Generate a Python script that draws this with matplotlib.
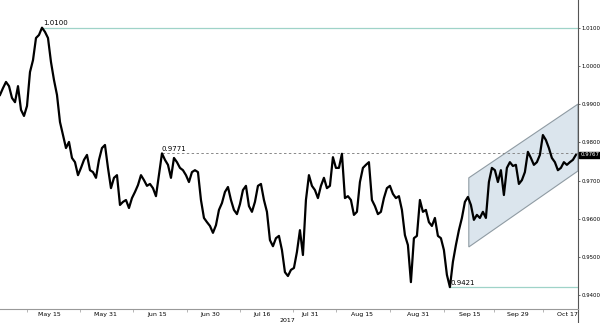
import numpy as np
import matplotlib
matplotlib.use('Agg')
import matplotlib.pyplot as plt
from matplotlib.patches import Polygon


# price (roughly 3 samples per trading day pair)
price = [
    0.9924, 0.9942, 0.9958, 0.9947, 0.9916, 0.9905, 0.9947, 0.9885, 0.9869, 0.9895,
    0.9984, 1.0015, 1.0073, 1.0081, 1.0100, 1.0089, 1.0073, 1.0010, 0.9963, 0.9924,
    0.9853, 0.9819, 0.9785, 0.9801, 0.9759, 0.9748, 0.9714, 0.9733, 0.9754, 0.9767,
    0.9727, 0.9722, 0.9707, 0.9754, 0.9785, 0.9793, 0.9733, 0.9680, 0.9707, 0.9714,
    0.9636, 0.9644, 0.9649, 0.9628, 0.9654, 0.9670, 0.9688, 0.9714, 0.9701, 0.9686,
    0.9691, 0.9680, 0.9659, 0.9714, 0.9771, 0.9754, 0.9741, 0.9707, 0.9759, 0.9748,
    0.9733, 0.9727, 0.9714, 0.9696, 0.9722, 0.9727, 0.9722, 0.9649, 0.9602, 0.9591,
    0.9581, 0.9563, 0.9583, 0.9623, 0.9641, 0.9670, 0.9683, 0.9649, 0.9623, 0.9612,
    0.9638, 0.9675, 0.9686, 0.9633, 0.9618, 0.9644, 0.9686, 0.9691, 0.9649, 0.9618,
    0.9544, 0.9528, 0.9549, 0.9555, 0.9518, 0.9460, 0.9450, 0.9466, 0.9471, 0.9513,
    0.9570, 0.9505, 0.9649, 0.9714, 0.9686, 0.9675, 0.9654, 0.9686, 0.9707, 0.9680,
    0.9686, 0.9761, 0.9733, 0.9733, 0.9770, 0.9654, 0.9659, 0.9649, 0.9610, 0.9618,
    0.9696, 0.9733, 0.9741, 0.9748, 0.9649, 0.9633, 0.9612, 0.9618, 0.9654, 0.9680,
    0.9686, 0.9665, 0.9654, 0.9659, 0.9623, 0.9557, 0.9531, 0.9434, 0.9549, 0.9555,
    0.9649, 0.9618, 0.9623, 0.9591, 0.9581, 0.9602, 0.9555, 0.9549, 0.9518, 0.9453,
    0.9421, 0.9487, 0.9531, 0.9570, 0.9602, 0.9644, 0.9657, 0.9636, 0.9597, 0.9610,
    0.9602, 0.9618, 0.9602, 0.9696, 0.9733, 0.9727, 0.9696, 0.9727, 0.9662, 0.9733,
    0.9748, 0.9738, 0.9741, 0.9691, 0.9701, 0.9722, 0.9775, 0.9759, 0.9741, 0.9748,
    0.9767, 0.9819, 0.9806, 0.9785, 0.9759, 0.9748, 0.9727, 0.9733, 0.9748, 0.9741,
    0.9748, 0.9754, 0.9767,
]

date_labels = ['May 15', 'May 31', 'Jun 15', 'Jun 30', 'Jul 16', 'Jul 31',
               'Aug 15', 'Aug 31', 'Sep 15', 'Sep 29', 'Oct 17']
label_pos = [16.3, 35.0, 52.3, 70.0, 87.3, 103.3, 120.7, 139.3, 156.7, 172.7, 189.3]
sep_pos = [9.0, 26.7, 44.3, 62.3, 80.0, 97.7, 112.0, 130.0, 148.0, 164.7, 181.0]

y_ticks = [1.01, 1.00, 0.99, 0.98, 0.97, 0.96, 0.95, 0.94]

# levels marked on the chart
high_level = 1.0100
mid_level = 0.9771
low_level = 0.9421
last_price = 0.9767

# channel corners (x index, price)
chan_x = [156.3, 192.7, 192.7, 156.3]
chan_y = [0.9707, 0.9900, 0.9725, 0.9526]


def draw_chart():
    fig = plt.figure(figsize=(6, 3.23), dpi=100)
    ax = fig.add_axes([0.0, 0.0433, 0.9633, 0.9567])

    x = np.arange(len(price))
    xmax = 192.7

    # channel
    poly = Polygon(list(zip(chan_x, chan_y)), closed=True,
                   facecolor='#dbe5ed', edgecolor='#8f9ba3', lw=0.8, zorder=1)
    ax.add_patch(poly)

    # horizontal levels
    hi_x = price.index(high_level)
    ax.plot([hi_x, xmax], [high_level, high_level], color='#9fd3c8', lw=0.9, zorder=2)
    ax.text(hi_x + 0.3, high_level + 0.0004, '%.4f' % high_level,
            fontsize=5, va='bottom', ha='left')

    mid_x = price.index(mid_level)
    ax.plot([mid_x, xmax], [mid_level, mid_level], color='#888888', lw=0.7,
            ls=(0, (2.5, 2.5)), zorder=2)
    ax.text(mid_x, mid_level + 0.0003, '%.4f' % mid_level,
            fontsize=5, va='bottom', ha='left')

    lo_x = price.index(low_level)
    ax.plot([lo_x - 0.3, xmax], [low_level, low_level], color='#9fd3c8', lw=0.9, zorder=2)
    ax.text(lo_x + 0.3, low_level + 0.0003, '%.4f' % low_level,
            fontsize=5, va='bottom', ha='left')

    ax.plot(x, price, color='black', lw=1.6, zorder=3)

    ax.set_xlim(0, xmax)
    ax.set_ylim(0.93636, 1.01725)

    for s in ['top', 'left']:
        ax.spines[s].set_visible(False)
    ax.spines['right'].set_color('#555555')
    ax.spines['bottom'].set_color('#999999')
    ax.spines['right'].set_linewidth(0.8)
    ax.spines['bottom'].set_linewidth(0.8)
    # right spine runs on past the date axis
    ax.plot([1, 1], [0, -0.05], transform=ax.transAxes, color='#555555',
            lw=0.8, clip_on=False)

    ax.yaxis.tick_right()
    ax.set_yticks(y_ticks)
    ax.set_yticklabels(['%.4f' % v for v in y_ticks])
    ax.tick_params(axis='y', labelsize=3.9, length=1.5, width=0.6, pad=0.8,
                   color='#555555')

    ax.set_xticks(label_pos)
    ax.set_xticklabels(date_labels)
    ax.set_xticks(sep_pos, minor=True)
    ax.tick_params(axis='x', which='major', labelsize=4.5, length=0, pad=2)
    ax.tick_params(axis='x', which='minor', length=2, width=0.5, color='#999999')

    ax.text(95.7, -0.028, '2017', transform=ax.get_xaxis_transform(),
            fontsize=4.5, ha='center', va='top')

    # last price tag
    ax.text(1.004, last_price, '%.4f' % last_price,
            transform=ax.get_yaxis_transform(), fontsize=3.9, color='white',
            ha='left', va='center', zorder=5, clip_on=False,
            bbox=dict(boxstyle='square,pad=0.15', facecolor='black', edgecolor='black'))

    fig.savefig('out.png', dpi=100)


draw_chart()
